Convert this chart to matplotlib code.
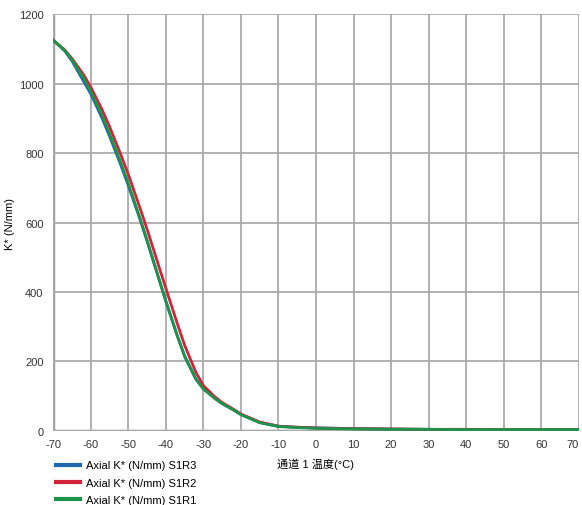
import matplotlib
matplotlib.use("Agg")
import matplotlib.pyplot as plt

plt.rcParams['font.family'] = ['Liberation Sans', 'Noto Sans CJK SC', 'DejaVu Sans']
plt.rcParams['axes.unicode_minus'] = False

# temperature (°C)
temp = [-70, -67, -65, -62, -60, -57, -55, -52, -50, -47, -45, -42, -40, -37, -35, -32,
        -30, -27, -25, -22, -20, -15, -10, -5, 0, 10, 20, 30, 40, 50, 60, 70]

# stiffness K* (N/mm)
s1r3 = [1125, 1095, 1065, 1008, 970, 900, 848, 765, 706, 612, 546, 442, 373, 275, 215, 149,
        121, 94, 78, 60, 47, 24, 13, 10, 8, 6, 5, 4, 3, 3, 3, 3]
s1r2 = [1125, 1098, 1072, 1027, 990, 925, 876, 795, 738, 645, 580, 478, 410, 310, 246, 168,
        130, 98, 81, 62, 48, 25, 13, 10, 8, 6, 5, 4, 4, 3, 3, 3]
s1r1 = [1125, 1096, 1068, 1017, 977, 908, 856, 772, 712, 616, 548, 443, 373, 274, 214, 148,
        120, 93, 78, 60, 46, 23, 12, 9, 7, 5, 4, 4, 3, 3, 3, 3]

series = [("Axial K* (N/mm) S1R3", s1r3, "#1f68b0"),
          ("Axial K* (N/mm) S1R2", s1r2, "#d42238"),
          ("Axial K* (N/mm) S1R1", s1r1, "#1c9449")]

xticks = list(range(-70, 71, 10))
yticks = list(range(0, 1201, 200))

fig = plt.figure(figsize=(5.82, 5.06), dpi=100)
ax = fig.add_axes([0.0916, 0.1468, 0.9027, 0.823])

handles = []
for label, vals, color in series:
    h, = ax.plot(temp, vals, color=color, lw=2.0, label=label, zorder=3)
    handles.append(h)

ax.set_xlim(-70, 70)
ax.set_ylim(0, 1200)
ax.set_xticks(xticks)
ax.set_yticks(yticks)
ax.tick_params(length=0, labelsize=8, colors="#333333")
ax.tick_params(axis='x', pad=6)
ax.tick_params(axis='y', pad=7)
ax.get_xticklabels()[-1].set_horizontalalignment('right')
ax.grid(True, color="#ababab", lw=1.3)
for s in ax.spines.values():
    s.set_visible(False)
ax.axvline(-70, color="#a0a0a0", lw=2.5, zorder=1)
ax.axhline(0, color="#8c8c8c", lw=2.5, zorder=1)

ax.set_xlabel("通道 1 温度(°C)", fontsize=8, labelpad=6)
ax.set_ylabel("K* (N/mm)", fontsize=8, labelpad=3)

leg = fig.legend(handles=handles, loc="upper left", bbox_to_anchor=(0.097, 0.088),
                 frameon=False, fontsize=8, handlelength=2.1, handletextpad=0.55,
                 labelspacing=0.65, borderaxespad=0, borderpad=0)
for lh in leg.get_lines():
    lh.set_linewidth(3)

fig.savefig("out.png", dpi=100)
